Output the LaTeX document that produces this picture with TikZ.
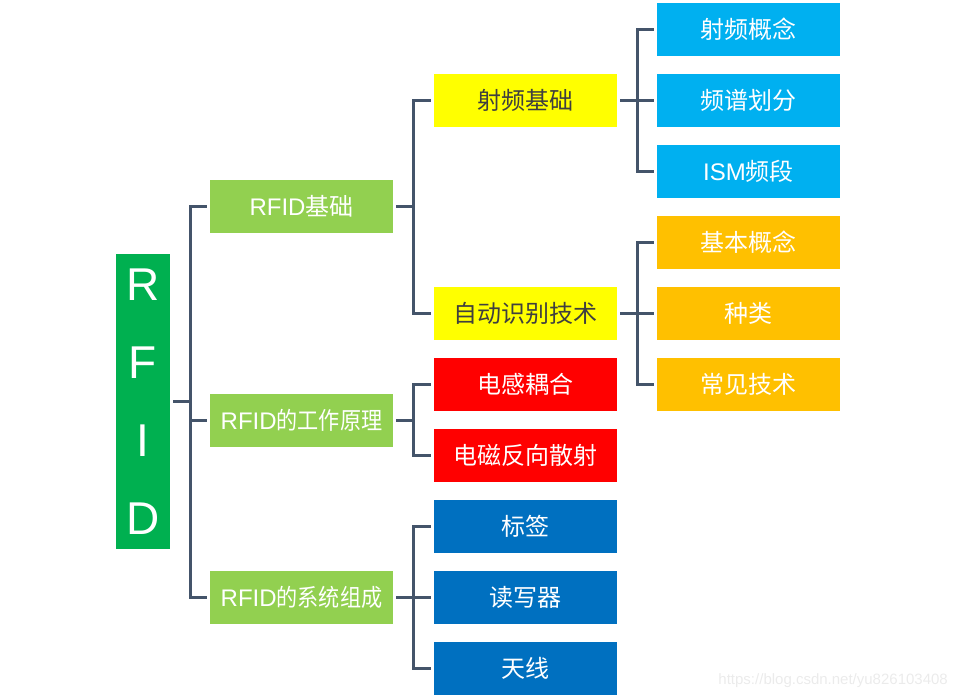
\documentclass[tikz,border=0pt]{standalone}
\usepackage{fontspec}
\setmainfont{Noto Sans CJK SC}
\newfontfamily\latin{Liberation Sans}
\newcommand{\squeeze}[1]{\scalebox{0.88}[1]{#1}}
\usepackage{xcolor}
\definecolor{rootgreen}{HTML}{00B050}
\definecolor{lvgreen}{HTML}{92D050}
\definecolor{rfyellow}{HTML}{FFFF00}
\definecolor{skyblue}{HTML}{00B0F0}
\definecolor{amber}{HTML}{FFC000}
\definecolor{hotred}{HTML}{FF0000}
\definecolor{deepblue}{HTML}{0070C0}
\definecolor{linegray}{HTML}{44546A}
\definecolor{darktext}{HTML}{3F3F3F}

\begin{document}
\begin{tikzpicture}[x=1pt, y=-1pt, box/.style={minimum width=183pt, minimum height=53pt, inner sep=0pt, text=white, font=\fontsize{24}{28}\selectfont}, conn/.style={draw=linegray, line width=3pt}]
\useasboundingbox (0,0) rectangle (957,699);
% root
\node[fill=rootgreen, minimum width=54pt, minimum height=295pt, inner sep=0pt, text=white, align=center, font=\latin\fontsize{46}{78}\selectfont] (root) at (143,401.5) {R\\F\\I\\D};
% first level
\node[box, fill=lvgreen] (basic) at (301.5,206.5) {{\latin RFID}基础};
\node[box, fill=lvgreen] (principle) at (301.5,420) {{\latin RFID}\squeeze{的工作原理}};
\node[box, fill=lvgreen] (system) at (301.5,597.5) {{\latin RFID}\squeeze{的系统组成}};
% second level
\node[box, fill=rfyellow, text=darktext] (rfbase) at (525.5,100.5) {射频基础};
\node[box, fill=rfyellow, text=darktext] (autoid) at (525.5,313.5) {自动识别技术};
\node[box, fill=hotred] (induct) at (525.5,384.5) {电感耦合};
\node[box, fill=hotred] (scatter) at (525.5,455.5) {电磁反向散射};
\node[box, fill=deepblue] (tag) at (525.5,526.5) {标签};
\node[box, fill=deepblue] (reader) at (525.5,597.5) {读写器};
\node[box, fill=deepblue] (antenna) at (525.5,668.5) {天线};
% third level
\node[box, fill=skyblue] (rfconcept) at (748.5,29.5) {射频概念};
\node[box, fill=skyblue] (spectrum) at (748.5,100.5) {频谱划分};
\node[box, fill=skyblue] (ism) at (748.5,171.5) {{\latin ISM}频段};
\node[box, fill=amber] (concept) at (748.5,242.5) {基本概念};
\node[box, fill=amber] (kinds) at (748.5,313.5) {种类};
\node[box, fill=amber] (common) at (748.5,384.5) {常见技术};
% connectors
\foreach \p/\c in {root/basic, root/principle, root/system, basic/rfbase, basic/autoid, principle/induct, principle/scatter, system/tag, system/reader, system/antenna, rfbase/rfconcept, rfbase/spectrum, rfbase/ism, autoid/concept, autoid/kinds, autoid/common}
  \draw[conn] ([xshift=3pt]\p.east) -- ++(17,0) |- ([xshift=-3pt]\c.west);
\node[anchor=east, inner sep=0pt, text=black!8, font=\latin\fontsize{15}{18}\selectfont] (mark) at (948,681) {https://blog.csdn.net/yu826103408};
\end{tikzpicture}
\end{document}
